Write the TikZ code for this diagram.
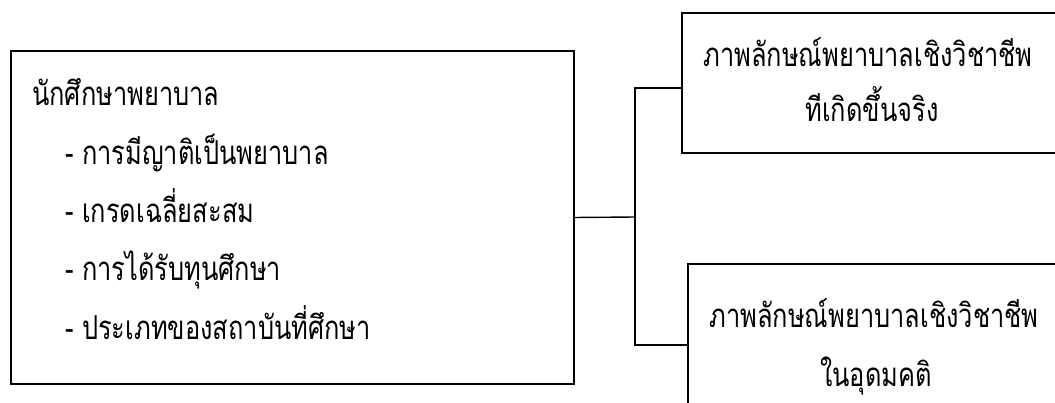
\documentclass[tikz,border=0pt]{standalone}
\usepackage{fontspec}
\newfontfamily\thaifont[Script=Thai,FakeStretch=0.77]{Loma}
\usetikzlibrary{calc}
\begin{document}
\begin{tikzpicture}[x=1pt,y=-1pt,
  box/.style={draw,line width=1.4pt,rectangle,inner sep=0pt},
  txt/.style={font=\thaifont\fontsize{33}{40}\selectfont,inner sep=0pt},
  link/.style={line width=1.4pt}]
  \useasboundingbox (0,0) rectangle (1055,403);
  \clip (0,0) rectangle (1055,403);
  % student factors box
  \node[box,minimum width=563pt,minimum height=333pt] (left) at (292.5,217.5) {};
  % professional image boxes (run past the right and bottom edges)
  \node[box,minimum width=400pt,minimum height=140pt] (top) at (882,83) {};
  \node[box,minimum width=400pt,minimum height=140pt] (bot) at (888,334) {};
  % texts
  \node[txt,anchor=base west] (l1) at (32,106) {นักศึกษาพยาบาล};
  \node[txt,anchor=base west] (l2) at (65,165) {- การมีญาติเป็นพยาบาล};
  \node[txt,anchor=base west] (l3) at (65,223) {- เกรดเฉลี่ยสะสม};
  \node[txt,anchor=base west] (l4) at (65,281) {- การได้รับทุนศึกษา};
  \node[txt,anchor=base west] (l5) at (65,340) {- ประเภทของสถาบันที่ศึกษา};
  \node[txt,anchor=base] (t1) at (868,67) {ภาพลักษณ์พยาบาลเชิงวิชาชีพ};
  \node[txt,anchor=base] (t2) at (872,122) {ทีเกิดขึ้นจริง};
  \node[txt,anchor=base] (b1) at (874,328) {ภาพลักษณ์พยาบาลเชิงวิชาชีพ};
  \node[txt,anchor=base] (b2) at (876,386) {ในอุดมคติ};
  % connectors
  \coordinate (j) at (635,217);
  \draw[link] (left.east) -- (j);
  \draw[link] (j) |- ($(top.west)+(0,5)$);
  \draw[link] (j) |- ($(bot.west)+(0,11)$);
\end{tikzpicture}
\end{document}
